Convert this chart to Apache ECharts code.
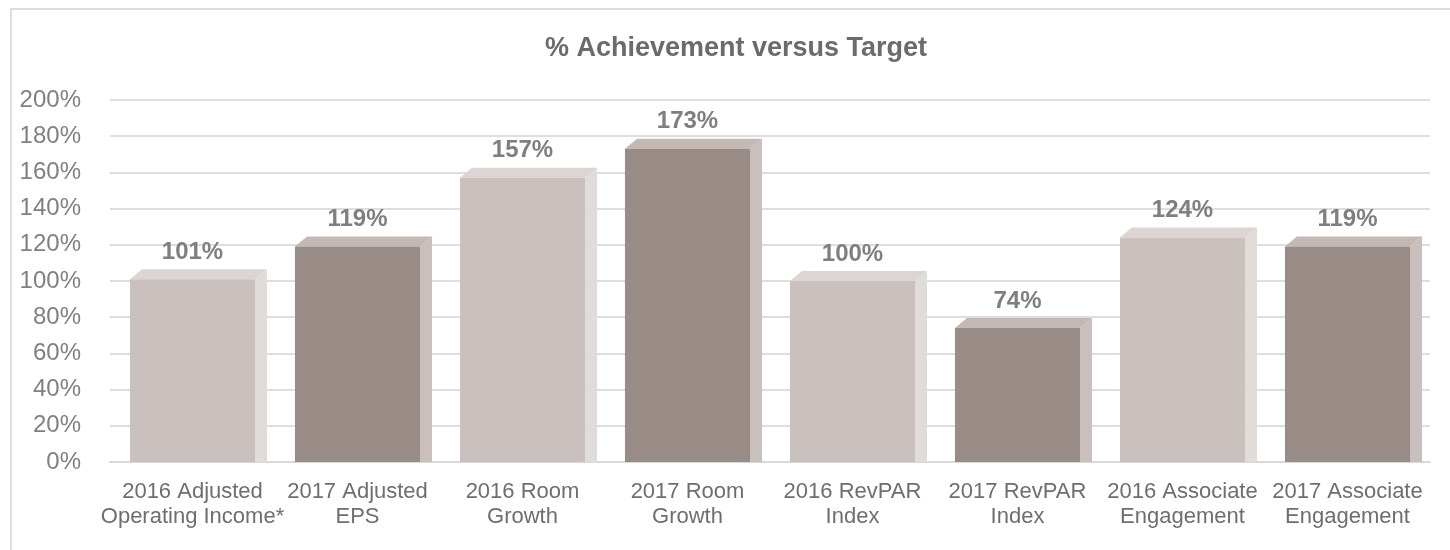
<!DOCTYPE html>
<html>
<head>
<meta charset="utf-8">
<script src="https://cdn.jsdelivr.net/npm/echarts@6/dist/echarts.min.js"></script>
<style>
  html, body { margin: 0; padding: 0; background: #fff; }
  #chart { width: 1450px; height: 550px; }
</style>
</head>
<body>
<div id="chart"></div>
<script>
// categories and values
var categories = [
  '2016 Adjusted\nOperating Income*',
  '2017 Adjusted\nEPS',
  '2016 Room\nGrowth',
  '2017 Room\nGrowth',
  '2016 RevPAR\nIndex',
  '2017 RevPAR\nIndex',
  '2016 Associate\nEngagement',
  '2017 Associate\nEngagement'
];
var achievement = [101, 119, 157, 173, 100, 74, 124, 119];
var yTicks = [0, 20, 40, 60, 80, 100, 120, 140, 160, 180, 200];

var FONT = '"Liberation Sans", Arial, sans-serif';

// light bars for 2016, dark for 2017
var palette = {
  light: { front: '#cac1bf', top: '#dcd5d3', side: '#e0dcda' },
  dark:  { front: '#998b86', top: '#c3b8b4', side: '#c9bfbc' }
};

var depthX = 12;
var depthY = 10;

function renderBar3d(params, api) {
  var idx = api.value(0);
  var val = api.value(1);
  var top = api.coord([idx, val]);
  var base = api.coord([idx, 0]);
  var band = api.size([1, 0])[0];
  var w = band * 0.758;
  var x0 = top[0] - w / 2;
  var x1 = top[0] + w / 2;
  var c = idx % 2 === 0 ? palette.light : palette.dark;

  return {
    type: 'group',
    children: [
      {
        type: 'polygon',
        shape: { points: [[x1, top[1]], [x1 + depthX, top[1] - depthY], [x1 + depthX, base[1]], [x1, base[1]]] },
        style: { fill: c.side }
      },
      {
        type: 'polygon',
        shape: { points: [[x0, top[1]], [x0 + depthX, top[1] - depthY], [x1 + depthX, top[1] - depthY], [x1, top[1]]] },
        style: { fill: c.top }
      },
      {
        type: 'rect',
        shape: { x: x0, y: top[1], width: w, height: base[1] - top[1] },
        style: { fill: c.front }
      },
      {
        type: 'text',
        x: top[0],
        y: top[1] - 27,
        style: {
          text: val + '%',
          font: 'bold 24px ' + FONT,
          fill: '#7f7f7f',
          align: 'center',
          verticalAlign: 'middle'
        }
      }
    ]
  };
}

var chart = echarts.init(document.getElementById('chart'));

chart.setOption({
  animation: false,
  backgroundColor: '#fff',
  graphic: [
    {
      type: 'rect',
      shape: { x: 11, y: 9, width: 1460, height: 560 },
      style: { fill: 'none', stroke: '#dcdcdc', lineWidth: 2 },
      silent: true
    },
    {
      type: 'text',
      x: 736,
      y: 49,
      style: {
        text: '% Achievement versus Target',
        font: 'bold 27px ' + FONT,
        fill: '#6b6b6b',
        align: 'center',
        verticalAlign: 'middle'
      },
      silent: true
    }
  ],
  grid: { left: 110, right: 20, top: 100, bottom: 88 },
  xAxis: {
    type: 'category',
    data: categories,
    axisTick: { show: false },
    axisLine: { lineStyle: { color: '#d9d9d9', width: 2 } },
    axisLabel: {
      interval: 0,
      margin: 17,
      fontFamily: FONT,
      fontSize: 22,
      lineHeight: 25,
      color: '#6e6e6e'
    }
  },
  yAxis: {
    type: 'value',
    min: yTicks[0],
    max: yTicks[yTicks.length - 1],
    interval: yTicks[1] - yTicks[0],
    axisLine: { show: false },
    axisTick: { show: false },
    splitLine: { lineStyle: { color: '#dedede', width: 2 } },
    axisLabel: {
      formatter: '{value}%',
      margin: 29,
      fontFamily: FONT,
      fontSize: 24,
      color: '#808080'
    }
  },
  series: [{
    type: 'custom',
    renderItem: renderBar3d,
    encode: { x: 0, y: 1 },
    data: achievement.map(function (v, i) { return [i, v]; }),
    z: 3
  }]
});
</script>
</body>
</html>
